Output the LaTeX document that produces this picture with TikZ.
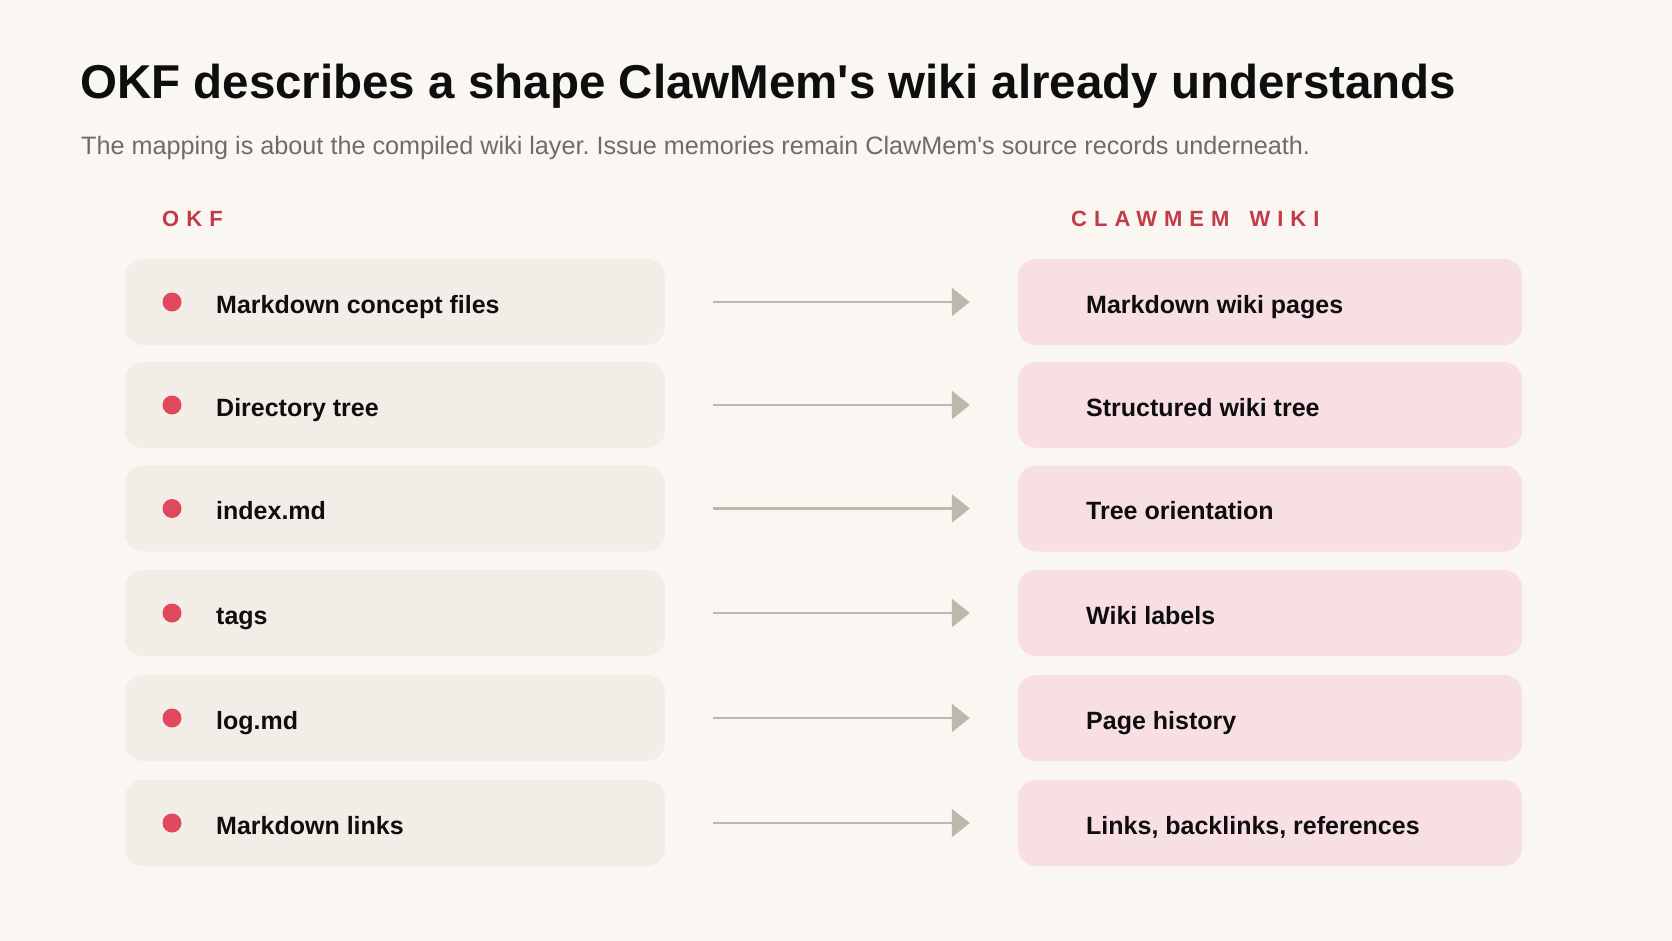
\documentclass[tikz,border=0pt]{standalone}
\usepackage{fontspec}
\setmainfont{Liberation Sans}
\newfontfamily\trackedfont[LetterSpace=32]{Liberation Sans}
\usetikzlibrary{arrows.meta}
\definecolor{pageBg}{HTML}{FAF7F2}
\definecolor{okfFill}{HTML}{F2EEE7}
\definecolor{wikiFill}{HTML}{F8DFE3}
\definecolor{dotRed}{HTML}{E0485C}
\definecolor{headRed}{HTML}{C23B47}
\definecolor{arrowGray}{HTML}{BDB7AC}
\definecolor{subGray}{HTML}{6F6B67}
\definecolor{inkBlack}{HTML}{0E0E0E}
\frenchspacing

\begin{document}
\begin{tikzpicture}[x=1pt,y=-1pt]
                    \tikzstyle{okfbox} = [fill=okfFill, rounded corners=18pt, minimum width=540pt, minimum height=86pt, inner sep=0pt]
                    \tikzstyle{wikibox} = [fill=wikiFill, rounded corners=18pt, minimum width=504pt, minimum height=86pt, inner sep=0pt]
                    \tikzstyle{dot} = [circle, fill=dotRed, minimum size=19pt, inner sep=0pt]
                    \tikzstyle{itemtext} = [anchor=base west, inner sep=0pt, text=inkBlack, font=\fontsize{25}{30}\selectfont\bfseries]
                    \tikzstyle{colhead} = [anchor=base west, inner sep=0pt, text=headRed, font=\trackedfont\fontsize{22}{26}\selectfont\bfseries]
                    \tikzstyle{maparrow} = [-{Triangle[length=18pt,width=28pt]}, arrowGray, line width=2.7pt, shorten <=48pt, shorten >=48pt]
                    \useasboundingbox (0,0) rectangle (1672,941);
                    \fill[pageBg] (0,0) rectangle (1672,941);
                    % heading
                    \node[anchor=base west, inner sep=0pt, text=inkBlack, font=\fontsize{47.5}{56}\selectfont\bfseries] (title) at (80,99) {OKF describes a shape ClawMem\textquotesingle s wiki already understands};
                    \node[anchor=base west, inner sep=0pt, text=subGray, font=\fontsize{25.2}{30}\selectfont] (sub) at (81,155) {The mapping is about the compiled wiki layer. Issue memories remain ClawMem\textquotesingle s source records underneath.};
                    \node[colhead] (hokf) at (162,227) {OKF};
                    \node[colhead] (hwiki) at (1071,227) {CLAWMEM\hspace{20pt}WIKI};
                    % row 1
                    \node[okfbox] (l1) at (395,302) {};
                    \node[wikibox] (r1) at (1270,302) {};
                    \node[dot] (d1) at (172,302) {};
                    \node[itemtext] (t1) at (216,313) {Markdown concept files};
                    \node[itemtext] (s1) at (1086,313) {Markdown wiki pages};
                    \draw[maparrow] (l1) -- (r1);
                    % row 2
                    \node[okfbox] (l2) at (395,405) {};
                    \node[wikibox] (r2) at (1270,405) {};
                    \node[dot] (d2) at (172,405) {};
                    \node[itemtext] (t2) at (216,416) {Directory tree};
                    \node[itemtext] (s2) at (1086,416) {Structured wiki tree};
                    \draw[maparrow] (l2) -- (r2);
                    % row 3
                    \node[okfbox] (l3) at (395,508.5) {};
                    \node[wikibox] (r3) at (1270,508.5) {};
                    \node[dot] (d3) at (172,508.5) {};
                    \node[itemtext] (t3) at (216,519.5) {index.md};
                    \node[itemtext] (s3) at (1086,519.5) {Tree orientation};
                    \draw[maparrow] (l3) -- (r3);
                    % row 4
                    \node[okfbox] (l4) at (395,613) {};
                    \node[wikibox] (r4) at (1270,613) {};
                    \node[dot] (d4) at (172,613) {};
                    \node[itemtext] (t4) at (216,624) {tags};
                    \node[itemtext] (s4) at (1086,624) {Wiki labels};
                    \draw[maparrow] (l4) -- (r4);
                    % row 5
                    \node[okfbox] (l5) at (395,718) {};
                    \node[wikibox] (r5) at (1270,718) {};
                    \node[dot] (d5) at (172,718) {};
                    \node[itemtext] (t5) at (216,729) {log.md};
                    \node[itemtext] (s5) at (1086,729) {Page history};
                    \draw[maparrow] (l5) -- (r5);
                    % row 6
                    \node[okfbox] (l6) at (395,823) {};
                    \node[wikibox] (r6) at (1270,823) {};
                    \node[dot] (d6) at (172,823) {};
                    \node[itemtext] (t6) at (216,834) {Markdown links};
                    \node[itemtext] (s6) at (1086,834) {Links, backlinks, references};
                    \draw[maparrow] (l6) -- (r6);
                \end{tikzpicture}
\end{document}
